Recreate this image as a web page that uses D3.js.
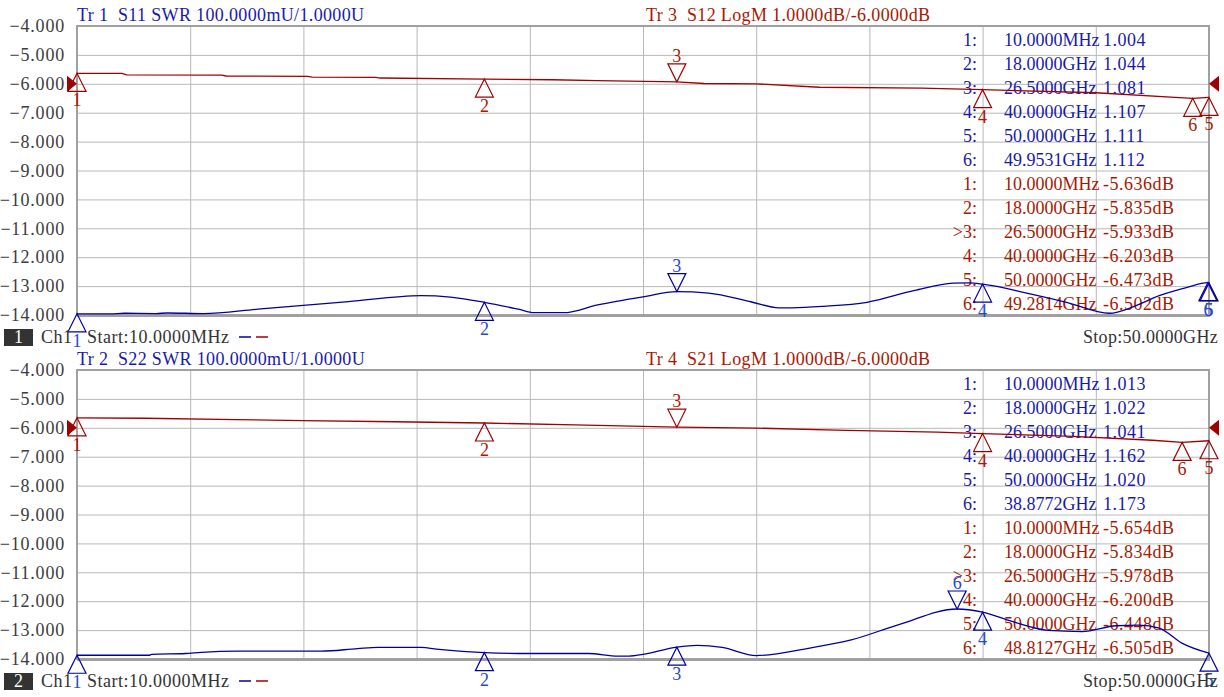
<!DOCTYPE html>
<html>
<head>
<meta charset="utf-8">
<script src="https://cdn.jsdelivr.net/npm/d3@7"></script>
<style>
body { margin: 0; background: #fff; }
text { font-family: "Liberation Serif", serif; font-size: 18px; white-space: pre; }
</style>
</head>
<body>
<script>
var width = 1224,
  height = 697,
  left = 77,
  right = 1209,
  plotH = 289;

// sweep + graticule
var startGHz = 0.01, stopGHz = 50;
var yTicks = [-4, -5, -6, -7, -8, -9, -10, -11, -12, -13, -14];

// ---- window 1 ----
var s11Freq = [0.01, 1.5, 2.1, 3.5, 4.0, 5.6, 8.0, 10.0, 12.0, 15.2, 16.5, 18.0, 19.5, 20.2, 21.5, 23.0, 25.0, 26.5, 27.9, 29.8, 31.0, 31.6, 33.0, 34.9, 37.0, 38.7, 39.4, 40.0, 42.1, 43.7, 45.6, 46.7, 47.8, 49.0, 49.9531, 50];
var s11Swr = [1.004, 1.004, 1.006, 1.005, 1.007, 1.005, 1.020, 1.033, 1.046, 1.067, 1.062, 1.044, 1.020, 1.008, 1.008, 1.035, 1.063, 1.081, 1.076, 1.045, 1.025, 1.025, 1.030, 1.044, 1.085, 1.110, 1.111, 1.107, 1.073, 1.044, 1.006, 1.030, 1.067, 1.095, 1.112, 1.111];
var s12Freq = [0.01, 2.0, 2.2, 6.4, 6.6, 10.2, 10.4, 13.2, 13.4, 18, 21, 23, 26.5, 27.7, 30, 32.8, 37.3, 40, 45, 48.5, 49.2814, 50];
var s12Db = [-5.636, -5.64, -5.69, -5.70, -5.73, -5.74, -5.77, -5.78, -5.80, -5.835, -5.86, -5.89, -5.933, -5.99, -6.00, -6.12, -6.15, -6.203, -6.31, -6.47, -6.502, -6.473];
var s11MkFreq = [0.01, 18, 26.5, 40, 50, 49.9531];
var s11MkVal = [1.004, 1.044, 1.081, 1.107, 1.111, 1.112];
var s12MkFreq = [0.01, 18, 26.5, 40, 50, 49.2814];
var s12MkVal = [-5.636, -5.835, -5.933, -6.203, -6.473, -6.502];

// ---- window 2 ----
var s22Freq = [0.01, 3.2, 3.3, 4.8, 5.5, 7.1, 10.8, 12.4, 13.3, 15.2, 16.0, 18.0, 20.0, 22.6, 23.9, 24.4, 25.0, 26.5, 27.4, 28.5, 30.0, 32.3, 34.2, 36.3, 38.8772, 40.0, 41.3, 42.9, 44.4, 45.9, 46.9, 47.8, 48.8, 50];
var s22Swr = [1.013, 1.013, 1.016, 1.019, 1.023, 1.027, 1.027, 1.036, 1.040, 1.040, 1.033, 1.022, 1.019, 1.019, 1.010, 1.010, 1.016, 1.041, 1.047, 1.040, 1.012, 1.037, 1.066, 1.119, 1.173, 1.162, 1.130, 1.099, 1.095, 1.115, 1.117, 1.107, 1.055, 1.020];
var s21Freq = [0.01, 3, 7, 10, 14, 18, 22, 26.5, 30, 34, 38, 40, 44, 47.5, 48.8127, 50];
var s21Db = [-5.654, -5.67, -5.72, -5.75, -5.79, -5.834, -5.90, -5.978, -6.01, -6.09, -6.15, -6.200, -6.30, -6.43, -6.505, -6.448];
var s22MkFreq = [0.01, 18, 26.5, 40, 50, 38.8772];
var s22MkVal = [1.013, 1.022, 1.041, 1.162, 1.020, 1.173];
var s21MkFreq = [0.01, 18, 26.5, 40, 50, 48.8127];
var s21MkVal = [-5.654, -5.834, -5.978, -6.200, -6.448, -6.505];

var blue = "#0000a0", red = "#a00000",
  blueText = "#1a1aa8", redText = "#a81800",
  blueMark = "#2848c8", gridCol = "#b8b8b8", frameCol = "#a0a0a0";

var svg = d3.select("body")
  .append("svg")
  .attr("width", width)
  .attr("height", height);

var x = d3.scaleLinear().domain([startGHz, stopGHz]).range([left, right]);

function fmtFreq(f) {
  return f < 1 ? (f * 1000).toFixed(4) + "MHz" : f.toFixed(4) + "GHz";
}

function drawMarkers(g, freqs, vals, yScale, col, labCol, downIdx) {
  freqs.forEach(function (f, i) {
    var mx = x(f), my = yScale(vals[i]);
    var down = (i + 1) === downIdx;
    var s = down ? -1 : 1;
    g.append("path")
      .attr("d", "M" + mx + "," + my + "L" + (mx - 9) + "," + (my + 18 * s) + "L" + (mx + 9) + "," + (my + 18 * s) + "Z")
      .attr("fill", "none")
      .attr("stroke", col)
      .attr("stroke-width", 1.2);
    g.append("text")
      .attr("x", mx)
      .attr("y", down ? my - 20 : my + 33)
      .attr("text-anchor", "middle")
      .attr("fill", labCol)
      .text(i + 1);
  });
}

function drawPanel(p) {
  var top = p.top, bottom = top + plotH;
  var y = d3.scaleLinear().domain([-14, -4]).range([bottom, top]);
  var ySwr = d3.scaleLinear().domain([1, 2]).range([bottom, top]);
  var g = svg.append("g");

  //----------grid----------
  g.append("g")
    .attr("transform", "translate(0," + bottom + ")")
    .call(d3.axisBottom(x)
      .tickValues(d3.range(11).map(function (i) { return startGHz + i * (stopGHz - startGHz) / 10; }))
      .tickSize(-plotH)
      .tickFormat(""))
    .call(function (a) { a.select(".domain").remove(); })
    .call(function (a) { a.selectAll("line").attr("stroke", gridCol); });

  g.append("g")
    .attr("transform", "translate(" + left + ",0)")
    .call(d3.axisLeft(y)
      .tickValues(yTicks)
      .tickSize(-(right - left))
      .tickPadding(12)
      .tickFormat(d3.format(".3f")))
    .call(function (a) { a.select(".domain").remove(); })
    .call(function (a) { a.selectAll("line").attr("stroke", gridCol); })
    .call(function (a) {
      a.selectAll("text")
        .attr("font-family", "Liberation Serif")
        .attr("font-size", 18)
        .attr("letter-spacing", 0.8)
        .attr("fill", "#3c3c3c");
    });

  g.append("rect")
    .attr("x", left).attr("y", top)
    .attr("width", right - left).attr("height", plotH)
    .attr("fill", "none").attr("stroke", frameCol).attr("stroke-width", 2);
  g.append("line")
    .attr("x1", left).attr("x2", right + 1)
    .attr("y1", bottom + 0.5).attr("y2", bottom + 0.5)
    .attr("stroke", frameCol).attr("stroke-width", 3);

  //----------headers----------
  g.append("text").attr("x", left).attr("y", top - 5).attr("letter-spacing", 0.35).attr("fill", blueText).text(p.hdrSwr);
  g.append("text").attr("x", 646).attr("y", top - 5).attr("letter-spacing", 0.35).attr("fill", redText).text(p.hdrDb);

  //----------marker table----------
  var rows = [];
  p.swrMkFreq.forEach(function (f, i) {
    rows.push({ lab: (i + 1) + ":", freq: fmtFreq(f), val: p.swrMkVal[i].toFixed(3), col: blueText });
  });
  p.dbMkFreq.forEach(function (f, i) {
    rows.push({ lab: (i + 1 === 3 ? ">" : "") + (i + 1) + ":", freq: fmtFreq(f), val: p.dbMkVal[i].toFixed(3) + "dB", col: redText });
  });
  var tbl = g.selectAll(".row").data(rows).enter().append("g")
    .attr("transform", function (d, i) { return "translate(0," + (top + 20 + i * 24) + ")"; })
    .attr("fill", function (d) { return d.col; });
  tbl.append("text").attr("x", 977).attr("text-anchor", "end").text(function (d) { return d.lab; });
  tbl.append("text").attr("x", 1004).text(function (d) { return d.freq; });
  tbl.append("text").attr("x", 1103).attr("letter-spacing", 0.5).text(function (d) { return d.val; });

  //----------traces----------
  var lineDb = d3.line()
    .x(function (d) { return x(d[0]); })
    .y(function (d) { return y(d[1]); });
  var lineSwr = d3.line()
    .curve(d3.curveMonotoneX)
    .x(function (d) { return x(d[0]); })
    .y(function (d) { return ySwr(d[1]); });

  g.append("path")
    .datum(d3.zip(p.dbFreq, p.db))
    .attr("d", lineDb)
    .attr("fill", "none").attr("stroke", red).attr("stroke-width", 1.3);
  g.append("path")
    .datum(d3.zip(p.swrFreq, p.swr))
    .attr("d", lineSwr)
    .attr("fill", "none").attr("stroke", blue).attr("stroke-width", 1.3);

  // reference level arrows for the dB trace
  var ry = y(-6);
  g.append("path").attr("d", "M" + (left - 10) + "," + (ry - 8) + "L" + left + "," + ry + "L" + (left - 10) + "," + (ry + 8) + "Z").attr("fill", red);
  g.append("path").attr("d", "M" + (right + 10) + "," + (ry - 8) + "L" + right + "," + ry + "L" + (right + 10) + "," + (ry + 8) + "Z").attr("fill", red);

  //----------markers----------
  drawMarkers(g, p.dbMkFreq, p.dbMkVal, y, red, redText, 3);
  drawMarkers(g, p.swrMkFreq, p.swrMkVal, ySwr, blue, blueMark, p.swrDown);

  //----------status bar----------
  var sb = bottom + 22;
  g.append("rect").attr("x", 4).attr("y", sb - 8).attr("width", 29).attr("height", 17).attr("fill", "#333");
  g.append("text").attr("x", 18.5).attr("y", sb + 6).attr("text-anchor", "middle").attr("fill", "#fff").text(p.win);
  g.append("text").attr("x", 41).attr("y", sb + 6).attr("letter-spacing", 0.5).attr("fill", "#333").text("Ch1");
  g.append("text").attr("x", 87).attr("y", sb + 6).attr("letter-spacing", 0.5).attr("fill", "#333").text("Start:" + fmtFreq(startGHz));
  g.append("text").attr("x", 1218).attr("y", sb + 6).attr("text-anchor", "end").attr("letter-spacing", 0.3).attr("fill", "#333").text("Stop:" + fmtFreq(stopGHz));
  g.append("line").attr("x1", 239).attr("x2", 251).attr("y1", sb).attr("y2", sb).attr("stroke", blue).attr("stroke-width", 1.5);
  g.append("line").attr("x1", 256).attr("x2", 268).attr("y1", sb).attr("y2", sb).attr("stroke", red).attr("stroke-width", 1.5);
}

drawPanel({
  top: 26, win: "1",
  hdrSwr: "Tr 1  S11 SWR 100.0000mU/1.0000U",
  hdrDb: "Tr 3  S12 LogM 1.0000dB/-6.0000dB",
  swrFreq: s11Freq, swr: s11Swr, dbFreq: s12Freq, db: s12Db,
  swrMkFreq: s11MkFreq, swrMkVal: s11MkVal, dbMkFreq: s12MkFreq, dbMkVal: s12MkVal,
  swrDown: 3
});
drawPanel({
  top: 370, win: "2",
  hdrSwr: "Tr 2  S22 SWR 100.0000mU/1.0000U",
  hdrDb: "Tr 4  S21 LogM 1.0000dB/-6.0000dB",
  swrFreq: s22Freq, swr: s22Swr, dbFreq: s21Freq, db: s21Db,
  swrMkFreq: s22MkFreq, swrMkVal: s22MkVal, dbMkFreq: s21MkFreq, dbMkVal: s21MkVal,
  swrDown: 6
});
</script>
</body>
</html>
